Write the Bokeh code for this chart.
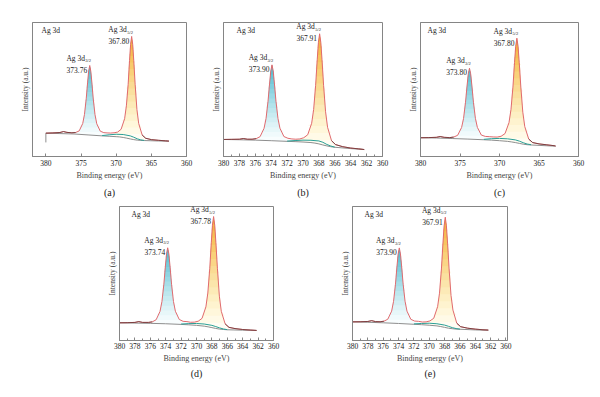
import numpy as np
from bokeh.plotting import figure
from bokeh.models import Range1d, FixedTicker, Label, Title, Spacer
from bokeh.layouts import row, column
from bokeh.embed import file_html
from bokeh.resources import INLINE

# ------------------------------------------------------------------ data
# (a)
E_a = [380.0, 379.0, 378.0, 377.5, 377.0, 376.3, 375.76, 375.26, 374.76, 374.51, 374.26, 374.06, 373.91,
       373.76, 373.61, 373.46, 373.26, 373.01, 372.76, 372.26, 371.76, 371.3, 370.8, 370.3, 369.8, 369.3,
       368.8, 368.55, 368.3, 368.1, 367.95, 367.80, 367.65, 367.50, 367.30, 367.05, 366.80, 366.30, 365.80,
       365.0, 364.0, 363.0, 362.5]
I_a = [17.4, 17.6, 17.9, 18.6, 18.0, 17.7, 17.9, 19.1, 24.6, 31.3, 43.1, 55.5, 63.8,
       67.9, 63.7, 55.4, 42.9, 31.2, 24.4, 18.9, 17.8, 17.6, 17.5, 17.7, 18.2, 20.3,
       28.2, 37.8, 53.6, 71.6, 83.6, 89.6, 83.6, 71.6, 53.6, 35.0, 24.7, 16.0, 13.6,
       12.6, 12.1, 11.7, 11.5]
BGE_a = [380, 380, 378, 376, 374, 372, 371, 370, 369.5, 369, 368.5, 368, 367.5, 367, 366.5, 366, 364, 362.5]
BG_a = [10.5, 17.4, 17.1, 16.8, 16.1, 15.4, 15.1, 14.8, 14.6, 14.2, 13.7, 13.1, 12.6, 12.2, 12.0, 11.9, 11.6, 11.4]
SE_a = [372.0, 371.0, 370.0, 369.0, 368.0, 367.5, 367.0, 366.5, 366.0]
S_a = [15.6, 16.2, 16.6, 16.4, 15.4, 14.4, 13.2, 12.4, 12.0]
PEAKS_a = [373.76, 367.80]

# (b)
E_b = [380.0, 379.0, 378.0, 377.5, 377.0, 376.4, 375.9, 375.4, 374.9, 374.65, 374.4, 374.2, 374.05,
       373.90, 373.75, 373.60, 373.40, 373.15, 372.90, 372.40, 371.90, 371.40, 370.90, 370.40, 369.91,
       369.41, 368.91, 368.66, 368.41, 368.21, 368.06, 367.91, 367.76, 367.61, 367.41, 367.16, 366.91,
       366.41, 365.91, 365.0, 364.0, 363.0, 362.3]
I_b = [12.7, 12.8, 12.9, 13.4, 12.9, 12.9, 13.3, 14.8, 21.0, 28.3, 41.2, 54.8, 63.9,
       68.4, 63.9, 54.8, 41.2, 28.4, 21.1, 14.9, 13.6, 13.1, 12.9, 13.1, 14.0,
       16.2, 24.8, 35.1, 53.1, 72.3, 85.2, 91.6, 85.2, 72.3, 53.1, 33.4, 21.8,
       11.8, 8.9, 7.3, 6.3, 5.7, 5.2]
BGE_b = [380, 378, 376, 374, 372, 371, 370, 369, 368.5, 368, 367.5, 367, 366.5, 366, 364, 362.3]
BG_b = [12.7, 12.5, 12.2, 11.8, 11.3, 11.1, 10.8, 10.4, 10.0, 9.4, 8.6, 7.9, 7.3, 6.9, 5.9, 5.2]
SE_b = [372.0, 371.0, 370.0, 369.0, 368.0, 367.5, 367.0, 366.5, 366.0]
S_b = [11.5, 11.9, 12.2, 12.1, 11.6, 10.6, 9.0, 7.8, 7.0]
PEAKS_b = [373.90, 367.91]

# (c)
E_c = [380.0, 379.0, 378.0, 377.5, 377.0, 376.3, 375.8, 375.3, 374.8, 374.55, 374.3, 374.1, 373.95,
       373.80, 373.65, 373.50, 373.30, 373.05, 372.80, 372.30, 371.80, 371.30, 370.80, 370.30, 369.80,
       369.30, 368.80, 368.55, 368.30, 368.10, 367.95, 367.80, 367.65, 367.50, 367.30, 367.05, 366.80,
       366.30, 365.80, 365.0, 364.0, 363.0, 362.9]
I_c = [14.0, 14.1, 14.3, 14.9, 14.3, 14.1, 14.5, 15.8, 21.6, 28.4, 40.5, 53.2, 61.7,
       65.9, 61.7, 53.2, 40.5, 28.5, 21.7, 16.0, 15.0, 14.8, 14.6, 14.5, 15.1,
       17.1, 25.2, 34.9, 51.8, 70.0, 82.2, 88.3, 82.2, 70.0, 51.8, 33.1, 22.3,
       13.0, 10.4, 9.4, 8.7, 8.0, 7.8]
BGE_c = [380, 378, 376, 374, 372, 371, 370, 369, 368.5, 368, 367.5, 367, 366.5, 366, 364, 362.9]
BG_c = [14.0, 13.8, 13.4, 13.0, 12.5, 12.2, 11.8, 11.3, 10.9, 10.4, 9.8, 9.2, 8.8, 8.6, 8.0, 7.7]
SE_c = [372.0, 371.0, 370.0, 369.0, 368.0, 367.5, 367.0, 366.5, 366.0]
S_c = [12.8, 13.3, 13.5, 13.2, 12.4, 11.5, 10.3, 9.3, 8.8]
PEAKS_c = [373.80, 367.80]

# (d)
E_d = [380.0, 379.0, 378.0, 377.5, 377.0, 376.24, 375.74, 375.24, 374.74, 374.49, 374.24, 374.04, 373.89,
       373.74, 373.59, 373.44, 373.24, 372.99, 372.74, 372.24, 371.74, 371.24, 370.78, 370.28, 369.78,
       369.28, 368.78, 368.53, 368.28, 368.08, 367.93, 367.78, 367.63, 367.48, 367.28, 367.03, 366.78,
       366.28, 365.78, 365.0, 364.0, 363.0, 362.2]
I_d = [13.2, 13.3, 13.5, 14.1, 13.5, 13.5, 13.9, 15.5, 21.7, 29.0, 42.0, 55.6, 64.7,
       69.2, 64.7, 55.6, 42.0, 29.1, 21.8, 15.7, 14.3, 14.1, 13.6, 13.7, 14.4,
       16.5, 25.1, 35.4, 53.5, 73.0, 86.0, 92.5, 86.0, 73.0, 53.5, 33.1, 21.8,
       12.4, 9.8, 8.9, 8.2, 7.8, 7.5]
BGE_d = [380, 378, 376, 374, 372, 371, 370, 369, 368.5, 368, 367.5, 367, 366.5, 366, 364, 362.2]
BG_d = [13.2, 13.0, 12.8, 12.5, 12.0, 11.7, 11.3, 10.7, 10.2, 9.6, 9.0, 8.5, 8.2, 8.0, 7.7, 7.5]
SE_d = [372.0, 371.0, 370.0, 369.0, 368.0, 367.5, 367.0, 366.5, 366.0]
S_d = [12.3, 12.6, 12.7, 12.3, 11.3, 10.4, 9.4, 8.6, 8.1]
PEAKS_d = [373.74, 367.78]

# (e)
E_e = [380.0, 379.0, 378.0, 377.5, 377.0, 376.4, 375.9, 375.4, 374.9, 374.65, 374.4, 374.2, 374.05,
       373.90, 373.75, 373.60, 373.40, 373.15, 372.90, 372.40, 371.90, 371.40, 370.90, 370.41, 369.91,
       369.41, 368.91, 368.66, 368.41, 368.21, 368.06, 367.91, 367.76, 367.61, 367.41, 367.16, 366.91,
       366.41, 365.91, 365.0, 364.0, 363.0, 362.3]
I_e = [13.9, 14.0, 14.2, 14.8, 14.1, 14.0, 14.4, 15.9, 21.9, 29.2, 42.0, 55.6, 64.6,
       69.1, 64.6, 55.6, 42.0, 29.3, 21.9, 15.8, 14.5, 14.3, 13.8, 13.9, 14.6,
       16.6, 25.2, 35.3, 53.4, 72.7, 85.6, 92.0, 85.6, 72.7, 53.4, 33.6, 22.7,
       12.9, 10.3, 9.2, 8.5, 8.0, 7.8]
BGE_e = [380, 378, 376, 374, 372, 371, 370, 369, 368.5, 368, 367.5, 367, 366.5, 366, 364, 362.3]
BG_e = [13.9, 13.6, 13.2, 12.7, 12.1, 11.8, 11.4, 10.9, 10.4, 9.8, 9.2, 8.8, 8.5, 8.4, 7.9, 7.6]
SE_e = [372.0, 371.0, 370.0, 369.0, 368.0, 367.5, 367.0, 366.5, 366.0]
S_e = [12.4, 12.7, 12.9, 12.5, 11.5, 10.6, 9.6, 8.9, 8.5]
PEAKS_e = [373.90, 367.91]

TICKS_5 = [380, 375, 370, 365, 360]
TICKS_2 = [380, 378, 376, 374, 372, 370, 368, 366, 364, 362, 360]
MINOR_2 = [379, 377, 375, 373, 371, 369, 367, 365, 363, 361]

X_LABEL = "Binding energy (eV)"
Y_LABEL = "Intensity (a.u.)"
REGION = "Ag 3d"
SUBS = ["3/2", "5/2"]
NAMES = ["(a)", "(b)", "(c)", "(d)", "(e)"]

# ------------------------------------------------------------------ style
FONT = "Liberation Serif"
FRAME_GRAY = "#858585"
RED = "#e06a6e"
DARK = "#553030"
GRAY = "#8e8e8e"
TEAL = "#2a9f96"


def mix(c1, c2, t):
    a = [int(c1[i:i + 2], 16) for i in (1, 3, 5)]
    b = [int(c2[i:i + 2], 16) for i in (1, 3, 5)]
    return "#%02x%02x%02x" % tuple(int(round(a[j] + (b[j] - a[j]) * t)) for j in range(3))


def gradient_fill(p, x, env, bg, c_low, c_high, n=16, alpha=0.12):
    base = float(bg.min())
    top = float(env.max())
    for k in range(n):
        lev = base + (top - base) * k / n
        p.varea(x=x, y1=np.maximum(bg, lev), y2=np.maximum(env, lev),
                fill_color=mix(c_low, c_high, k / (n - 1)), fill_alpha=alpha)


def make_panel(E, I, BGE, BG, SE, S, peaks, name, xr, ticks, minor, fw, fh, bl, br, bt, bb, ag_dx,
               lab_stand, title_stand):
    p = figure(frame_width=fw, frame_height=fh, x_range=Range1d(*xr), y_range=Range1d(0, 100),
               output_backend="svg", toolbar_location=None,
               min_border_left=bl, min_border_right=br, min_border_top=bt, min_border_bottom=bb)
    p.xgrid.visible = False
    p.ygrid.visible = False
    p.outline_line_color = FRAME_GRAY
    p.background_fill_color = "white"
    p.border_fill_color = "white"

    E = np.array(E, float)
    I = np.array(I, float)
    BGE = np.array(BGE, float)
    BG = np.array(BG, float)
    bg_on_E = np.interp(E[::-1], BGE[::-1], BG[::-1])[::-1]

    p3, p5 = peaks
    split = (p3 + p5) / 2.0
    m3 = (E <= p3 + 3.2) & (E >= split)
    m5 = (E <= split) & (E >= p5 - 2.6)
    gradient_fill(p, E[m3], I[m3], bg_on_E[m3], "#d8f3f7", "#0ea5bf", n=16, alpha=0.17)
    gradient_fill(p, E[m5], I[m5], bg_on_E[m5], "#fff3b8", "#f29600", n=16, alpha=0.17)

    p.line(BGE, BG, line_color=GRAY, line_width=1)
    p.line(SE, S, line_color=TEAL, line_width=1)
    p.line(E, I, line_color=RED, line_width=1)
    left = E >= p3 + 1.6
    right = E <= p5 - 1.3
    p.line(E[left], I[left], line_color=DARK, line_width=0.9, line_alpha=0.8)
    p.line(E[right], I[right], line_color=DARK, line_width=0.9, line_alpha=0.8)

    # axes
    xa = p.xaxis[0]
    xa.ticker = FixedTicker(ticks=ticks, minor_ticks=minor)
    xa.axis_label = X_LABEL
    xa.axis_label_text_font = FONT
    xa.axis_label_text_font_size = "8px"
    xa.axis_label_text_font_style = "normal"
    xa.axis_label_standoff = 2
    xa.major_label_text_font = FONT
    xa.major_label_text_font_size = "7.5px"
    xa.major_label_text_color = "#222222"
    xa.major_label_standoff = lab_stand
    xa.axis_line_color = FRAME_GRAY
    xa.major_tick_line_color = FRAME_GRAY
    xa.minor_tick_line_color = FRAME_GRAY
    xa.major_tick_in = 3
    xa.major_tick_out = 0
    xa.minor_tick_in = 2
    xa.minor_tick_out = 0

    ya = p.yaxis[0]
    ya.ticker = FixedTicker(ticks=[])
    ya.axis_label = Y_LABEL
    ya.axis_label_text_font = FONT
    ya.axis_label_text_font_size = "7.5px"
    ya.axis_label_text_font_style = "normal"
    ya.axis_label_standoff = 3
    ya.axis_line_color = FRAME_GRAY
    ya.major_tick_line_color = None
    ya.minor_tick_line_color = None

    txt = dict(text_font=FONT, text_color="#1a1a1a", text_baseline="middle")
    p.add_layout(Label(x=xr[0], y=100, x_offset=ag_dx, y_offset=-7.5, text=REGION,
                       text_align="left", text_font_size="7.5px", **txt))

    for pk, sub, dv in zip(peaks, SUBS, (4.2, 4.6)):
        top = float(I[np.argmin(np.abs(E - pk))])
        p.add_layout(Label(x=pk, y=top, x_offset=-2.5, y_offset=-dv, text="%.2f" % pk,
                           text_align="right", text_font_size="7.5px", **txt))
        p.add_layout(Label(x=pk, y=top, x_offset=-4.8, y_offset=-dv + 11.7, text=REGION,
                           text_align="right", text_font_size="7.5px", **txt))
        p.add_layout(Label(x=pk, y=top, x_offset=-4.4, y_offset=-dv + 9.0, text=sub,
                           text_align="left", text_font_size="4.5px", **txt))

    p.add_layout(Title(text=name, align="center", text_font=FONT, text_font_size="10px",
                       text_font_style="normal", text_color="#1a1a1a", standoff=title_stand), "below")
    return p


fa = make_panel(E_a, I_a, BGE_a, BG_a, SE_a, S_a, PEAKS_a, NAMES[0], (381.9, 360), TICKS_5, [],
                154, 134, 32, 18, 22, 44, 9, 3, 4)
fb = make_panel(E_b, I_b, BGE_b, BG_b, SE_b, S_b, PEAKS_b, NAMES[1], (380, 360), TICKS_2, MINOR_2,
                159, 134, 19, 18, 22, 44, 13, 3, 4)
fc = make_panel(E_c, I_c, BGE_c, BG_c, SE_c, S_c, PEAKS_c, NAMES[2], (380, 360), TICKS_5, [],
                158, 134, 20, 14, 22, 44, 7, 3, 4)
fd = make_panel(E_d, I_d, BGE_d, BG_d, SE_d, S_d, PEAKS_d, NAMES[3], (380, 360), TICKS_2, MINOR_2,
                154, 134, 19, 18, 6, 40, 12, 2, 1)
fe = make_panel(E_e, I_e, BGE_e, BG_e, SE_e, S_e, PEAKS_e, NAMES[4], (380, 359.8), TICKS_2, MINOR_2,
                155, 134, 19, 18, 6, 40, 12, 2, 1)

layout = column(row(fa, fb, fc),
                row(Spacer(width=100, height=10), fd, Spacer(width=42, height=10), fe))

open("out.html", "w").write(file_html(layout, INLINE))
